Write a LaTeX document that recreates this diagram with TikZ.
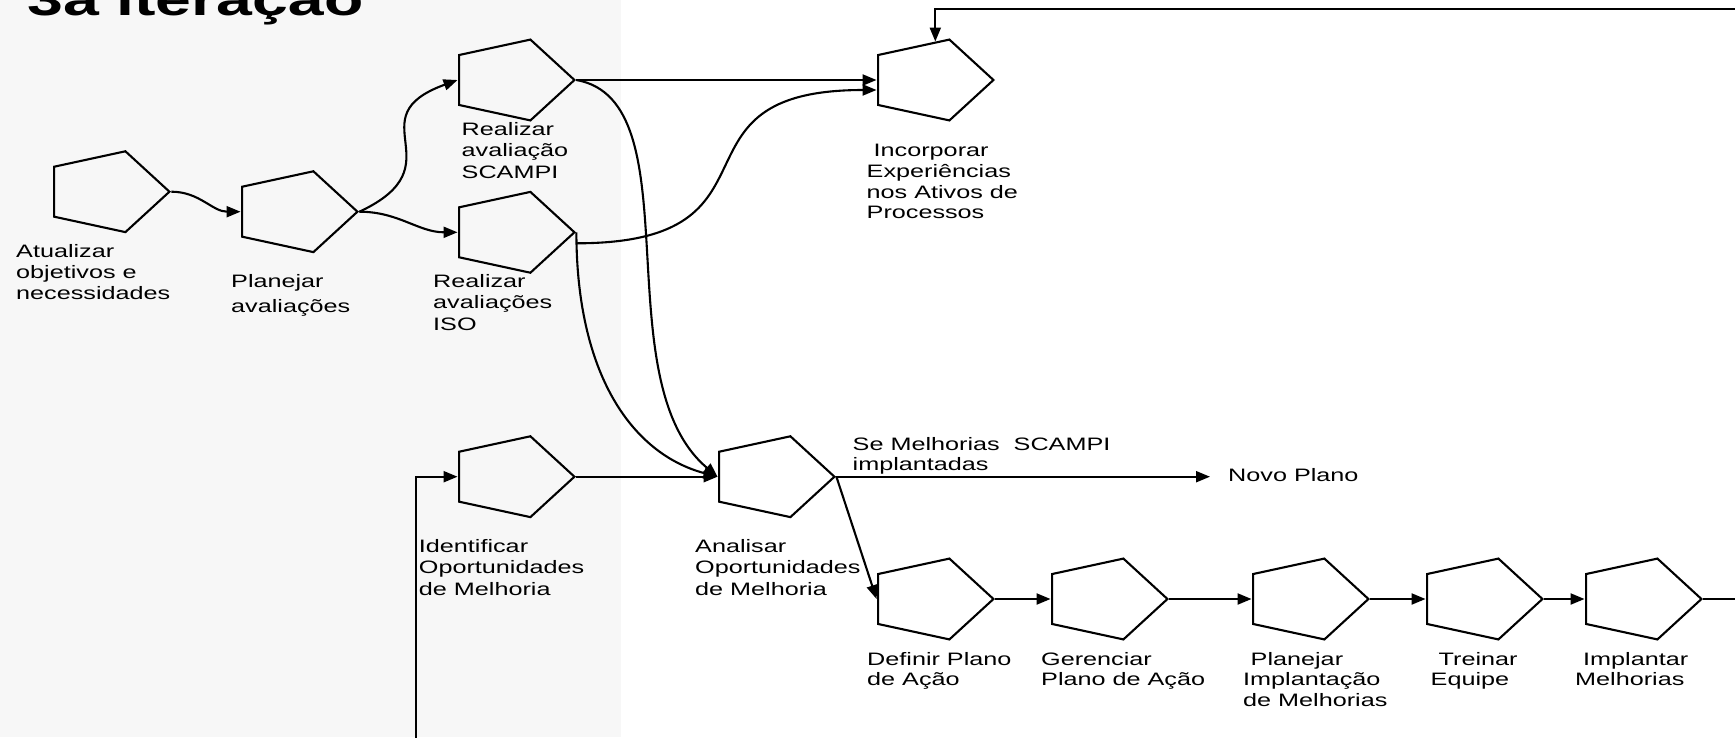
\documentclass[tikz,border=0pt]{standalone}
\usepackage{fontspec}
\setmainfont{Liberation Sans}
\newfontfamily\labfont[FakeStretch=1.4]{Liberation Sans}
\usetikzlibrary{shapes.geometric,arrows.meta,calc}
\definecolor{panel}{HTML}{F7F7F7}
\newcommand\lbl[2][21.2pt]{\vtop{\baselineskip=#1\relax\lineskiplimit=-100pt\halign{##\hfil\cr#2\crcr}}}
\begin{document}
\begin{tikzpicture}[x=1pt,y=1pt,
  pent/.style={regular polygon, regular polygon sides=5, shape border rotate=-90, draw, line width=2.1pt, minimum size=85pt, inner sep=0pt, xscale=1.5, transform shape},
  lab/.style={inner sep=0pt, anchor=base west, font=\labfont\fontsize{18pt}{21.2pt}\selectfont},
  arr/.style={line width=2.1pt, -{Triangle[length=14pt,width=11pt]}}]
\useasboundingbox (0,0) rectangle (1735,-737);
\clip (0,0) rectangle (1735,-737);
\fill[panel] (0,0) rectangle (621,-737);
% title
\node[inner sep=0pt, anchor=base west, font=\labfont\bfseries\fontsize{46pt}{46pt}\selectfont] (title) at (27,-15.5) {3a iteração};
% pentagons
\node[shift={(105.7,-191.7)},pent] (p1) {};
\node[shift={(293.7,-211.7)},pent] (p2) {};
\node[shift={(510.7,-80)},pent] (p3) {};
\node[shift={(510.7,-232.3)},pent] (p4) {};
\node[shift={(510.7,-476.7)},pent] (p5) {};
\node[shift={(770.7,-476.7)},pent] (p6) {};
\node[shift={(929.7,-80)},pent] (p7) {};
\node[shift={(929.7,-599)},pent] (p8) {};
\node[shift={(1103.7,-599)},pent] (p9) {};
\node[shift={(1304.7,-599)},pent] (p10) {};
\node[shift={(1478.7,-599)},pent] (p11) {};
\node[shift={(1637.7,-599)},pent] (p12) {};
% labels
\node[lab] (l1) at (16,-257.3) {\lbl[21.3pt]{Atualizar\cr objetivos e\cr necessidades}};
\node[lab] (l2) at (231,-287.3) {\lbl[25pt]{Planejar\cr avaliações}};
\node[lab] (l3) at (461.5,-135) {\lbl[21.6pt]{Realizar\cr avaliação\cr SCAMPI}};
\node[lab] (l4) at (433,-287.3) {\lbl[21.4pt]{Realizar\cr avaliações\cr ISO}};
\node[lab] (l5) at (866.5,-156.7) {\lbl[20.7pt]{\kern7pt Incorporar\cr Experiências\cr nos Ativos de\cr Processos}};
\node[lab] (l6) at (418.7,-552.7) {\lbl[21.2pt]{Identificar\cr Oportunidades\cr de Melhoria}};
\node[lab] (l7) at (695,-552.7) {\lbl[21.2pt]{Analisar\cr Oportunidades\cr de Melhoria}};
\node[lab] (l8) at (852.5,-450) {\lbl[20.7pt]{Se Melhorias\ \ SCAMPI\cr implantadas}};
\node[lab, inner xsep=18pt] (novo) at (1210,-481.7) {Novo Plano};
\node[lab] (l9) at (867,-665) {\lbl[20.7pt]{Definir Plano\cr de Ação}};
\node[lab] (l10) at (1041,-665) {\lbl[20.7pt]{Gerenciar\cr Plano de Ação}};
\node[lab] (l11) at (1243,-665) {\lbl[20.7pt]{\kern7.5pt Planejar\cr Implantação\cr de Melhorias}};
\node[lab] (l12) at (1430.5,-665) {\lbl[20.7pt]{\kern8pt Treinar\cr Equipe}};
\node[lab] (l13) at (1575,-665) {\lbl[20.7pt]{\kern8pt Implantar\cr Melhorias}};
% connectors
\draw[arr] (p1.corner 1) to[out=0,in=180] (p2.side 3);
\draw[arr] (p2.corner 1) to[out=25,in=200,distance=110pt] (p3.side 3);
\draw[arr] (p2.corner 1) to[out=0,in=180] (p4.side 3);
\draw[arr] (p3.corner 1) -- (p7.side 3);
\coordinate (p4s) at ($(p4.corner 1)+(0,-11)$);
\coordinate (p7l) at ($(p7.side 3)+(0,-10)$);
\draw[arr] (p4s) to[out=0,in=180,distance=220pt] (p7l);
\draw[arr] (p3.corner 1) to[out=-10,in=140,out distance=120pt,in distance=150pt] (p6.side 3);
\draw[arr] (p4.corner 1) to[out=-90,in=165,out distance=140pt,in distance=90pt] (p6.side 3);
\draw[arr] (p5.corner 1) -- (p6.side 3);
\draw[arr] (p6.corner 1) -- (p6.corner 1 -| novo.west);
\draw[arr] (p6.corner 1) -- (p8.side 3);
\draw[arr] (p8.corner 1) -- (p9.side 3);
\draw[arr] (p9.corner 1) -- (p10.side 3);
\draw[arr] (p10.corner 1) -- (p11.side 3);
\draw[arr] (p11.corner 1) -- (p12.side 3);
\coordinate (loopR) at (1750,-9);
\coordinate (p7top) at ($(p7.side 2)!0.6!(p7.corner 2)$);
\draw[arr] (p12.corner 1) -| (loopR) -| (p7top);
\coordinate (loopL) at (415.7,-760);
\draw[arr] (loopL) |- (p5.side 3);
\end{tikzpicture}
\end{document}
